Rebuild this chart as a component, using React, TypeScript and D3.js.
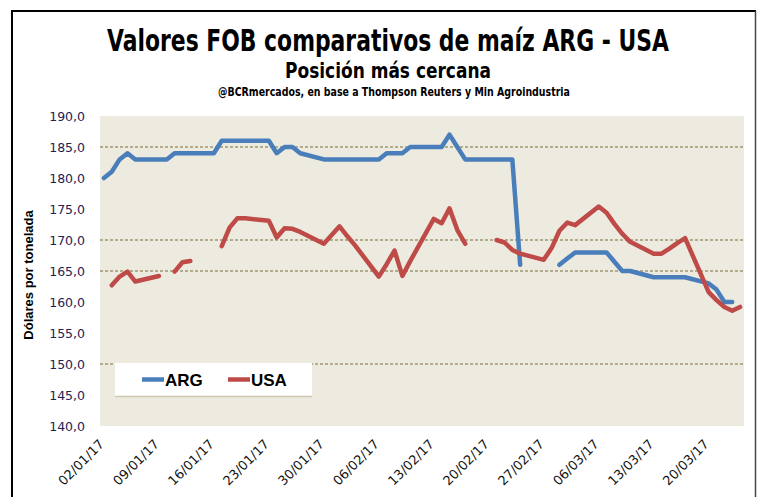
import React, { useEffect, useRef } from 'react';
import * as d3 from 'd3';

// business days, 02/01/17 .. 24/03/17
const dates = [
  '2017-01-02', '2017-01-03', '2017-01-04', '2017-01-05', '2017-01-06',
  '2017-01-09', '2017-01-10', '2017-01-11', '2017-01-12', '2017-01-13',
  '2017-01-16', '2017-01-17', '2017-01-18', '2017-01-19', '2017-01-20',
  '2017-01-23', '2017-01-24', '2017-01-25', '2017-01-26', '2017-01-27',
  '2017-01-30', '2017-01-31', '2017-02-01', '2017-02-02', '2017-02-03',
  '2017-02-06', '2017-02-07', '2017-02-08', '2017-02-09', '2017-02-10',
  '2017-02-13', '2017-02-14', '2017-02-15', '2017-02-16', '2017-02-17',
  '2017-02-20', '2017-02-21', '2017-02-22', '2017-02-23', '2017-02-24',
  '2017-02-27', '2017-02-28', '2017-03-01', '2017-03-02', '2017-03-03',
  '2017-03-06', '2017-03-07', '2017-03-08', '2017-03-09', '2017-03-10',
  '2017-03-13', '2017-03-14', '2017-03-15', '2017-03-16', '2017-03-17',
  '2017-03-20', '2017-03-21', '2017-03-22', '2017-03-23', '2017-03-24',
];

const arg: (number | null)[] = [
  180, 181, 183, 184, 183,
  183, 183, 184, 184, 184,
  184, 186, 186, 186, 186,
  186, 184, 185, 185, 184,
  183, 183, 183, 183, 183,
  183, 184, 184, 184, 185,
  185, 185, 187, 185, 183,
  183, 183, 183, 183, 166,
  null, null, 166, 167, 168,
  168, 168, 166.5, 165, 165,
  164, 164, 164, 164, 164,
  163, 162, 160, 160, null,
];

const usa: (number | null)[] = [
  null, 162.7, 164.1, 164.9, 163.3,
  164.2, null, 164.9, 166.4, 166.6,
  null, 169, 172, 173.5, 173.5,
  173.1, 170.4, 171.9, 171.8, 171.3,
  169.4, 170.8, 172.2, 170.6, 169.1,
  164.1, 166.1, 168.3, 164.2, 166.6,
  173.4, 172.7, 175.1, 171.6, 169.4,
  null, 170, 169.6, 168.4, 167.8,
  166.8, 168.7, 171.5, 172.8, 172.4,
  175.4, 174.4, 172.6, 171, 169.7,
  167.8, 167.8, 168.6, 169.5, 170.3,
  161.6, 160.3, 159.2, 158.6, 159.2,
];

const xLabels = [
  '02/01/17', '09/01/17', '16/01/17', '23/01/17', '30/01/17', '06/02/17',
  '13/02/17', '20/02/17', '27/02/17', '06/03/17', '13/03/17', '20/03/17',
];
const yTicks = [140, 145, 150, 155, 160, 165, 170, 175, 180, 185, 190];
const gridValues = [185, 170, 165, 150];

const series = [
  { name: 'ARG', values: arg, color: '#4A7EBB' },
  { name: 'USA', values: usa, color: '#BE4B48' },
];

const W = 765;
const H = 497;

export default function App() {
  const svgRef = useRef<SVGSVGElement>(null);

  useEffect(() => {
    const svg = d3.select(svgRef.current);
    svg.selectAll('*').remove();

    const plot = { left: 100, right: 744, top: 116, bottom: 426 };
    const parse = d3.utcParse('%Y-%m-%d');
    const parseLbl = d3.utcParse('%d/%m/%y');
    const half = 12 * 3600 * 1000;
    const first = parse(dates[0])!;
    const last = parse(dates[dates.length - 1])!;

    const x = d3
      .scaleUtc()
      .domain([new Date(+first - half), new Date(+last + half)])
      .range([plot.left, plot.right]);
    const y = d3.scaleLinear().domain([140, 190]).range([plot.bottom, plot.top]);

    svg.append('rect').attr('width', W).attr('height', H).attr('fill', '#fff');

    // frame
    svg.append('line').attr('x1', 12).attr('x2', 12).attr('y1', 11).attr('y2', H)
      .attr('stroke', '#000').attr('stroke-width', 2);
    svg.append('line').attr('x1', 11).attr('x2', 756).attr('y1', 11).attr('y2', 11)
      .attr('stroke', '#000').attr('stroke-width', 2);
    svg.append('line').attr('x1', 755.5).attr('x2', 755.5).attr('y1', 11).attr('y2', H)
      .attr('stroke', '#444').attr('stroke-width', 1.5);

    // titles: squeeze horizontally to the width seen in the reference
    const narrow = "'Liberation Sans Narrow', 'DejaVu Sans Condensed', 'Arial Narrow', sans-serif";
    const title = (txt: string, cx: number, by: number, fs: number, width: number) => {
      const t = svg.append('text').attr('x', 0).attr('y', 0).attr('text-anchor', 'middle')
        .attr('font-family', narrow).attr('font-weight', 'bold').attr('font-size', fs)
        .text(txt);
      const len = (t.node() as SVGTextElement).getComputedTextLength() || width;
      t.attr('transform', `translate(${cx},${by}) scale(${Math.min(1, width / len)},1)`);
    };
    title('Valores FOB comparativos de maíz ARG - USA', 388, 51, 31, 562);
    title('Posición más cercana', 388, 78, 21, 206);
    title('@BCRmercados, en base a Thompson Reuters y Min Agroindustria', 394, 96, 11.5, 352);

    // plot area
    svg.append('rect')
      .attr('x', plot.left).attr('y', plot.top)
      .attr('width', plot.right - plot.left).attr('height', plot.bottom - plot.top)
      .attr('fill', '#EDEAE0');

    svg.append('g').selectAll('line').data(gridValues).enter().append('line')
      .attr('x1', plot.left).attr('x2', plot.right)
      .attr('y1', (d) => y(d)).attr('y2', (d) => y(d))
      .attr('stroke', '#9E9770').attr('stroke-width', 1.5)
      .attr('stroke-dasharray', '3,2');

    // y axis labels
    const fmt = (v: number) => d3.format('.1f')(v).replace('.', ',');
    svg.append('g').selectAll('text').data(yTicks).enter().append('text')
      .attr('x', 85).attr('y', (d) => y(d) + 4.5)
      .attr('text-anchor', 'end')
      .attr('font-family', 'DejaVu Sans, sans-serif').attr('font-size', 12.5)
      .attr('fill', '#1E2356')
      .text((d) => fmt(d));

    svg.append('text')
      .attr('transform', 'translate(33,275) rotate(-90)')
      .attr('text-anchor', 'middle')
      .attr('font-family', 'Liberation Sans, Arial, sans-serif')
      .attr('font-weight', 'bold').attr('font-size', 13)
      .text('Dólares por tonelada');

    // x axis labels
    svg.append('g').selectAll('text').data(xLabels).enter().append('text')
      .attr('transform', (d) => `translate(${x(parseLbl(d)!) + 1},445) rotate(-45)`)
      .attr('text-anchor', 'end')
      .attr('font-family', 'DejaVu Sans, sans-serif').attr('font-size', 13)
      .attr('fill', '#111')
      .text((d) => d);

    // lines
    const parsed = dates.map((d) => parse(d)!);
    const line = d3
      .line<number | null>()
      .defined((d) => d != null)
      .x((_, i) => x(parsed[i]))
      .y((d) => y(d as number));

    svg.append('g').selectAll('path').data(series).enter().append('path')
      .attr('d', (s) => line(s.values))
      .attr('fill', 'none')
      .attr('stroke', (s) => s.color)
      .attr('stroke-width', 4.5)
      .attr('stroke-linejoin', 'round')
      .attr('stroke-linecap', 'round');

    // legend
    const lg = svg.append('g');
    lg.append('rect').attr('x', 115).attr('y', 363).attr('width', 197).attr('height', 33)
      .attr('fill', '#fff');
    lg.append('line').attr('x1', 115).attr('x2', 312).attr('y1', 396.5).attr('y2', 396.5)
      .attr('stroke', '#CFC8AE').attr('stroke-width', 1.5);
    const items = lg.selectAll('g.item').data(series).enter().append('g')
      .attr('transform', (_, i) => `translate(${142 + i * 86},379.5)`);
    items.append('line').attr('x1', 0).attr('x2', 22).attr('y1', 0).attr('y2', 0)
      .attr('stroke', (s) => s.color).attr('stroke-width', 4.5);
    items.append('text').attr('x', 23).attr('y', 6.5)
      .attr('font-family', 'Liberation Sans, Arial, sans-serif')
      .attr('font-weight', 'bold').attr('font-size', 17)
      .text((s) => s.name);
  }, []);

  return (
    <svg
      ref={svgRef}
      width={W}
      height={H}
      style={{ position: 'absolute', left: 0, top: 0 }}
    />
  );
}
